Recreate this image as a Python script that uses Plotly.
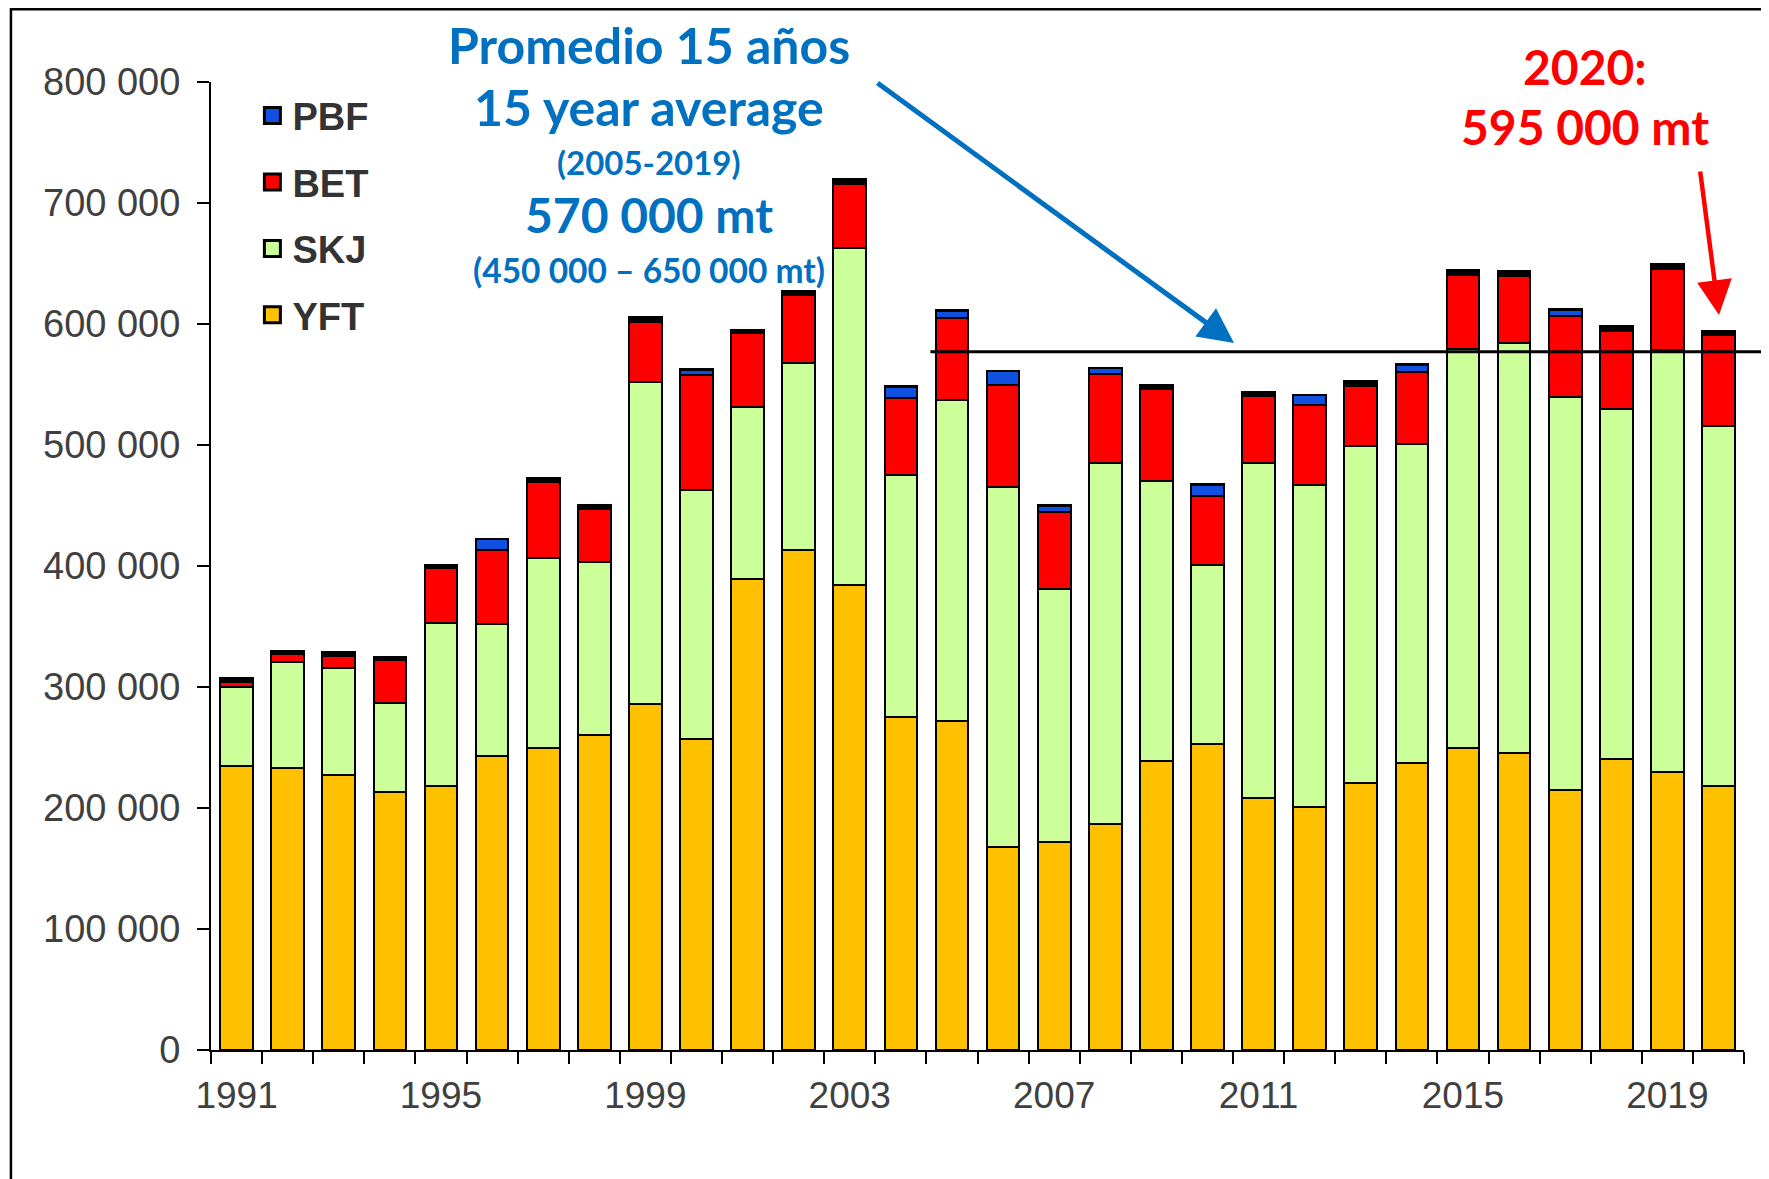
import plotly.graph_objects as go

years = list(range(1991, 2021))

# catches in thousand tonnes
yft = [235, 233, 227, 213, 218, 243, 250, 260, 286, 257, 389, 413, 384.5, 275, 272,
       167.5, 172, 187, 239, 253, 208, 201, 220.5, 237.5, 249.5, 245.5, 214.5, 240.5, 229.5, 218.5]
skj = [65, 88, 89, 74, 135, 109, 157, 143, 266, 206, 142.5, 155, 278, 200, 265,
       297.5, 209, 298.5, 231, 148, 277.5, 266, 279, 263, 330, 338.5, 325, 289.5, 349, 297.5]
bet = [4.5, 6, 10, 35, 45, 61, 62.5, 44, 50, 95, 61, 56, 53, 64, 68,
       85, 64, 73, 76, 57, 55, 66, 49.5, 60, 61, 56, 67, 64, 67, 74.5]
pbf = [0, 0, 0, 0, 0, 9, 0, 0, 0, 4, 0, 0, 0, 9, 6,
       11, 5, 5, 0, 9, 0, 8, 0, 6, 0, 0, 5, 0, 0, 0]
oth = [3, 3, 3, 2.5, 2.5, 0.5, 3.5, 3.5, 3.5, 0.5, 2.5, 3.5, 4, 0.5, 0.5,
       0.5, 0.5, 0.5, 3.5, 0.5, 3.5, 0.5, 3.5, 0.5, 4, 4, 0.5, 4, 4, 4]

species = ["YFT", "SKJ", "BET", "PBF"]
legend_order = ["PBF", "BET", "SKJ", "YFT"]
colors = {"YFT": "#FFC000", "SKJ": "#CCFF99", "BET": "#FF0000", "PBF": "#1050E0"}
series = {"YFT": yft, "SKJ": skj, "BET": bet, "PBF": pbf}

ytick_vals = [0, 100000, 200000, 300000, 400000, 500000, 600000, 700000, 800000]
ytick_text = ["0", "100 000", "200 000", "300 000", "400 000", "500 000", "600 000", "700 000", "800 000"]
xtick_vals = [1991, 1995, 1999, 2003, 2007, 2011, 2015, 2019]

avg_line_value = 577000
y_max = 800000

fig = go.Figure()
for sp in species:
    fig.add_trace(go.Bar(
        x=years, y=[v * 1000 for v in series[sp]], name=sp, showlegend=False,
        marker=dict(color=colors[sp], line=dict(color="black", width=2)),
    ))
fig.add_trace(go.Bar(
    x=years, y=[v * 1000 for v in oth], name="other",
    showlegend=False, marker=dict(color="black", line=dict(color="black", width=2)),
))
# legend entries (square swatches)
for sp in legend_order:
    fig.add_trace(go.Scatter(
        x=[None], y=[None], mode="markers", name="<b>" + sp + "</b>", legendgroup=sp,
        marker=dict(symbol="square", size=19, color=colors[sp],
                    line=dict(color="black", width=3)),
        showlegend=True, hoverinfo="skip",
    ))

tick_font = dict(family="Liberation Sans, Arial, sans-serif", size=38, color="#404040")
xtick_font = dict(family="Liberation Sans, Arial, sans-serif", size=37, color="#404040")

fig.update_layout(
    width=1761, height=1171, autosize=False,
    margin=dict(l=203, r=25, t=74, b=129, pad=0),
    paper_bgcolor="white", plot_bgcolor="white",
    barmode="stack", bargap=0.36,
    showlegend=True,
    legend=dict(
        x=0.027, y=0.9975, xanchor="left", yanchor="top",
        traceorder="grouped", tracegroupgap=14,
        font=dict(family="Liberation Sans, Arial, sans-serif", size=38, color="#333333"),
        bgcolor="rgba(0,0,0,0)",
    ),
    xaxis=dict(
        range=[1990.5, 2020.5], tickmode="array", tickvals=xtick_vals,
        ticks="", showline=True, linecolor="black", linewidth=2,
        showgrid=False, zeroline=False, tickfont=xtick_font, ticklabelstandoff=12,
        minor=dict(tickmode="linear", tick0=1990.5, dtick=1, ticks="outside",
                   ticklen=12, tickwidth=1.5, tickcolor="black", showgrid=False),
    ),
    yaxis=dict(
        range=[0, y_max], tickmode="array", tickvals=ytick_vals, ticktext=ytick_text,
        ticks="outside", ticklen=12, tickwidth=1.5, tickcolor="black",
        showline=True, linecolor="black", linewidth=2,
        showgrid=False, zeroline=False, tickfont=tick_font, ticklabelstandoff=9,
    ),
)

# average line (from 2005 onwards to the right edge)
fig.add_shape(type="line", xref="paper", yref="paper",
              x0=0.4693, x1=1.03, y0=avg_line_value / y_max, y1=avg_line_value / y_max,
              line=dict(color="black", width=3))

# outer frame
fig.add_shape(type="rect", xref="paper", yref="paper",
              x0=-0.1305, x1=1.03, y0=-0.16, y1=1.0752,
              line=dict(color="black", width=2.5), fillcolor="rgba(0,0,0,0)")

blue = "#0070C0"
red = "#FF0000"
af = "Lato, Open Sans, sans-serif"
texts = [
    ("<b>Promedio 15 años</b>", 0.2857, 1.038, 50, blue),
    ("<b>15 year average</b>", 0.2857, 0.9745, 50, blue),
    ("<b>(2005-2019)</b>", 0.2857, 0.917, 33, blue),
    ("<b>570 000 mt</b>", 0.2857, 0.863, 48, blue),
    ("<b>(450 000 – 650 000 mt)</b>", 0.2857, 0.806, 33.5, blue),
    ("<b>2020:</b>", 0.8963, 1.0155, 48, red),
    ("<b>595 000 mt</b>", 0.8963, 0.9536, 48, red),
]
for t, x, y, s, c in texts:
    fig.add_annotation(text=t, x=x, y=y, xref="paper", yref="paper",
                       xanchor="center", yanchor="middle", showarrow=False,
                       font=dict(family=af, size=s, color=c))

# arrows
fig.add_annotation(text="", x=(1234 - 211) / 1533, y=(1050 - 343) / 968,
                   xref="paper", yref="paper", ax=-358, ay=-261,
                   showarrow=True, arrowhead=2, arrowsize=1.4, arrowwidth=5,
                   arrowcolor=blue)
fig.add_annotation(text="", x=(1719 - 211) / 1533, y=(1050 - 315) / 968,
                   xref="paper", yref="paper", ax=-19, ay=-145,
                   showarrow=True, arrowhead=2, arrowsize=1.55, arrowwidth=4.5,
                   arrowcolor=red)

fig.write_html("out.html")
